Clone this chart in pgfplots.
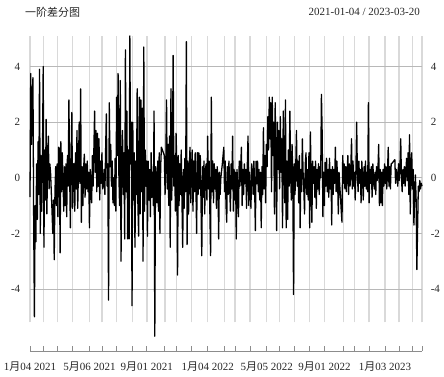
\documentclass[border=0pt]{standalone}
\usepackage{fontspec}
\setmainfont{Liberation Serif}
\newfontfamily\cjk{Noto Sans CJK SC}
\usepackage{pgfplots}
\usepackage{pgfplotstable}
\pgfplotsset{compat=1.18}
\definecolor{vgrid}{HTML}{D9D9D9}
\definecolor{hgrid}{HTML}{B8B8B8}
\definecolor{axgray}{HTML}{8C8C8C}
\definecolor{txt}{HTML}{262626}
\pgfplotstableread[header=false]{
-0.7
3.75
1.2
2.8
3.6
-1.5
-5.0
-1.0
-2.3
0.5
-1.5
1.3
-0.6
3.9
-2.0
0.8
-1.2
0.9
4.0
-2.5
1.0
-0.8
2.1
-1.3
0.6
1.5
-0.4
0.5
0.2
-0.5
-1.2
-2.0
-0.8
-2.95
-0.5
0.4
-1.0
0.5
-1.4
1.1
1.05
-2.7
1.3
-0.5
0.9
-0.2
-1.2
0.4
-1.0
0.5
-1.4
0.8
-0.3
2.8
0.2
-1.8
0.6
2.35
-1.1
0.5
0.5
-1.2
0.9
-0.4
1.7
-1.1
0.3
2.0
-0.2
3.2
-1.6
0.4
-1.0
0.3
0.85
-0.7
0.5
-0.4
0.6
-0.5
0.2
-1.8
0.3
-0.6
-0.9
0.8
-0.3
1.0
2.4
0.2
1.7
-0.5
1.6
-0.3
1.4
-0.8
0.6
-0.2
0.9
-0.4
-0.3
0.3
-0.6
1.0
2.3
-0.3
0.5
-4.4
2.7
0.4
1.2
-0.3
0.6
-0.9
0.0
-1.0
0.7
-1.2
2.9
0.8
3.75
0.2
-1.0
3.5
-3.0
0.5
1.7
-0.6
0.9
-2.2
4.6
-0.5
2.4
-2.2
1.0
-2.2
5.1
0.5
2.0
-4.6
2.0
-0.8
0.9
-2.5
0.6
-0.6
3.2
-1.0
-2.1
2.9
-1.3
2.8
-0.5
2.5
-3.0
4.7
-1.2
1.0
-0.3
0.6
-2.1
0.6
-0.8
0.3
-1.4
0.9
-0.7
0.2
-1.0
2.4
-5.7
0.4
0.0
-0.9
0.6
-1.2
0.9
-2.0
0.4
1.1
1.03
0.95
0.88
0.8
-0.6
0.5
2.8
-0.4
1.2
-1.0
1.5
-2.5
3.2
-0.8
0.6
4.4
-0.3
0.8
-1.2
1.6
0.4
-3.5
0.8
-1.0
0.5
-0.6
1.0
-0.8
-2.5
0.3
-1.1
0.7
-0.5
4.9
-2.4
0.6
-1.3
0.4
1.1
-0.9
0.3
1.0
-1.2
0.6
-0.5
0.9
-0.3
-2.0
0.9
-0.6
0.9
-0.4
0.8
-1.0
-2.8
0.4
-0.7
0.6
-1.3
0.3
0.5
-0.8
1.5
-0.4
0.6
-1.2
-2.8
2.9
-0.5
0.6
-0.9
0.5
-0.4
0.3
-1.1
0.4
0.0
-2.2
0.2
-0.6
0.0
0.25
0.5
0.8
1.1
-0.5
0.6
-1.0
-1.6
0.4
-0.6
0.6
-0.3
-1.2
0.5
-0.4
1.5
-1.2
0.3
-0.8
0.2
-2.2
0.3
-0.5
-1.4
0.6
-0.3
0.4
1.1
-1.0
0.3
-0.6
0.5
-0.2
0.3
-1.1
0.4
1.5
-1.0
0.2
-0.4
-1.1
0.5
0.2
-0.6
0.6
-0.3
-1.9
0.6
-0.2
0.6
-0.5
0.3
-0.8
0.2
-1.8
0.4
-0.6
1.8
-0.4
0.8
-0.9
1.2
0.4
2.2
1.0
2.9
1.4
2.7
-0.5
2.9
0.8
2.0
-1.3
2.7
0.5
-1.9
2.0
0.3
1.7
-0.4
2.2
0.2
1.4
-1.8
2.4
0.5
-0.9
2.8
-1.8
0.6
-1.5
1.0
-0.3
2.4
0.2
-0.8
1.2
0.1
-4.2
0.5
-0.6
0.4
1.7
-0.3
0.6
-0.9
0.8
-1.8
0.3
-0.5
1.4
0.2
-0.4
-1.3
0.5
0.9
-0.6
0.3
-0.8
0.9
-1.8
1.65
-0.3
-1.6
0.6
-0.2
0.4
-0.7
0.6
-1.1
0.3
-0.4
0.5
-0.6
0.4
0.0
3.0
1.6
-1.4
0.2
-1.0
0.55
-0.3
0.7
-0.5
0.3
-0.7
0.7
-0.4
0.3
-1.7
0.4
-0.6
0.3
-0.2
1.1
-0.5
0.6
0.0
-1.3
0.2
-0.3
-0.7
-1.2
-1.6
0.8
-0.2
0.5
-0.4
0.4
-0.5
0.2
0.8
-0.6
0.5
-0.3
0.3
1.4
-0.4
0.6
-0.3
0.2
-0.8
0.3
2.0
0.1
-0.5
0.6
-0.2
0.3
-0.9
0.6
0.0
-0.8
0.4
-0.3
0.6
-0.4
0.2
-0.5
2.7
-0.9
0.3
-0.2
0.4
-0.7
0.5
0.0
-0.4
0.2
-0.6
0.4
-0.1
0.3
1.2
-1.0
0.3
-0.9
0.2
-1.0
0.3
-0.3
0.5
-0.2
0.4
-0.4
0.2
1.1
-0.3
0.4
-0.4
0.5
0.52
0.55
0.58
0.62
0.65
-0.2
0.3
0.1
-0.3
0.5
-0.1
0.4
1.4
0.0
-0.5
0.3
-0.2
0.4
-0.3
0.2
0.7
-0.1
0.9
-0.6
1.55
-1.3
0.5
0.9
-0.4
0.3
-1.7
-0.6
0.1
-0.8
-3.3
-1.8
-0.3
-0.5
-0.1
-0.4
-0.2
-0.3
}\diffdata
\begin{document}
\begin{tikzpicture}
\useasboundingbox (-30pt,-26pt) rectangle (414pt,351pt);
\begin{axis}[
  at={(0pt,0pt)}, anchor=south west,
  width=392pt, height=315pt, scale only axis,
  xmin=0, xmax=805, ymin=-6.23, ymax=5.1,
  axis x line*=bottom, axis y line=none,
  x axis line style={draw=axgray, line width=0.8pt},
  xtick={0,28,56,87,122,148,178,210,240,277,301,331,365,399,421,452,486,513,543,574,605,644,666,696,729,758,786,805},
  xticklabels={1{\cjk 月}04 2021,,,,5{\cjk 月}06 2021,,,,9{\cjk 月}01 2021,,,,1{\cjk 月}04 2022,,,,5{\cjk 月}05 2022,,,,9{\cjk 月}01 2022,,,,1{\cjk 月}03 2023,,,},
  xtick style={draw=axgray, line width=0.8pt},
  tick align=inside, major tick length=4.5pt,
  xticklabel style={font=\fontsize{11}{13}\selectfont, text=txt, yshift=-7pt},
  ytick=\empty,
  clip=false,
]
\pgfplotsinvokeforeach{0,28,56,87,122,148,178,210,240,277,301,331,365,399,421,452,486,513,543,574,605,644,666,696,729,758,786,805}{
  \draw[vgrid, line width=1.3pt] (axis cs:#1,-5.2) -- (axis cs:#1,5.1);
}
\pgfplotsinvokeforeach{-4,-2,0,2,4}{
  \draw[hgrid, line width=0.9pt] (axis cs:0,#1) -- (axis cs:805,#1);
  \node[anchor=east, text=txt, font=\fontsize{11}{13}\selectfont, xshift=-6.3pt] at (axis cs:0,#1) {#1};
  \node[anchor=west, text=txt, font=\fontsize{11}{13}\selectfont, xshift=5.3pt] at (axis cs:805,#1) {#1};
}
\addplot[black, line width=1.3pt, line join=round, mark=none]
  table[x expr=\coordindex*1.50749, y index=0] {\diffdata};
\end{axis}
\node[anchor=west, inner sep=0pt, text=txt, font=\fontsize{11}{13}\selectfont] at (-5pt,339pt) {{\cjk 一阶差分图}};
\node[anchor=east, inner sep=0pt, text=txt, font=\fontsize{11}{13}\selectfont] at (390pt,339pt) {2021-01-04 / 2023-03-20};
\end{tikzpicture}
\end{document}
